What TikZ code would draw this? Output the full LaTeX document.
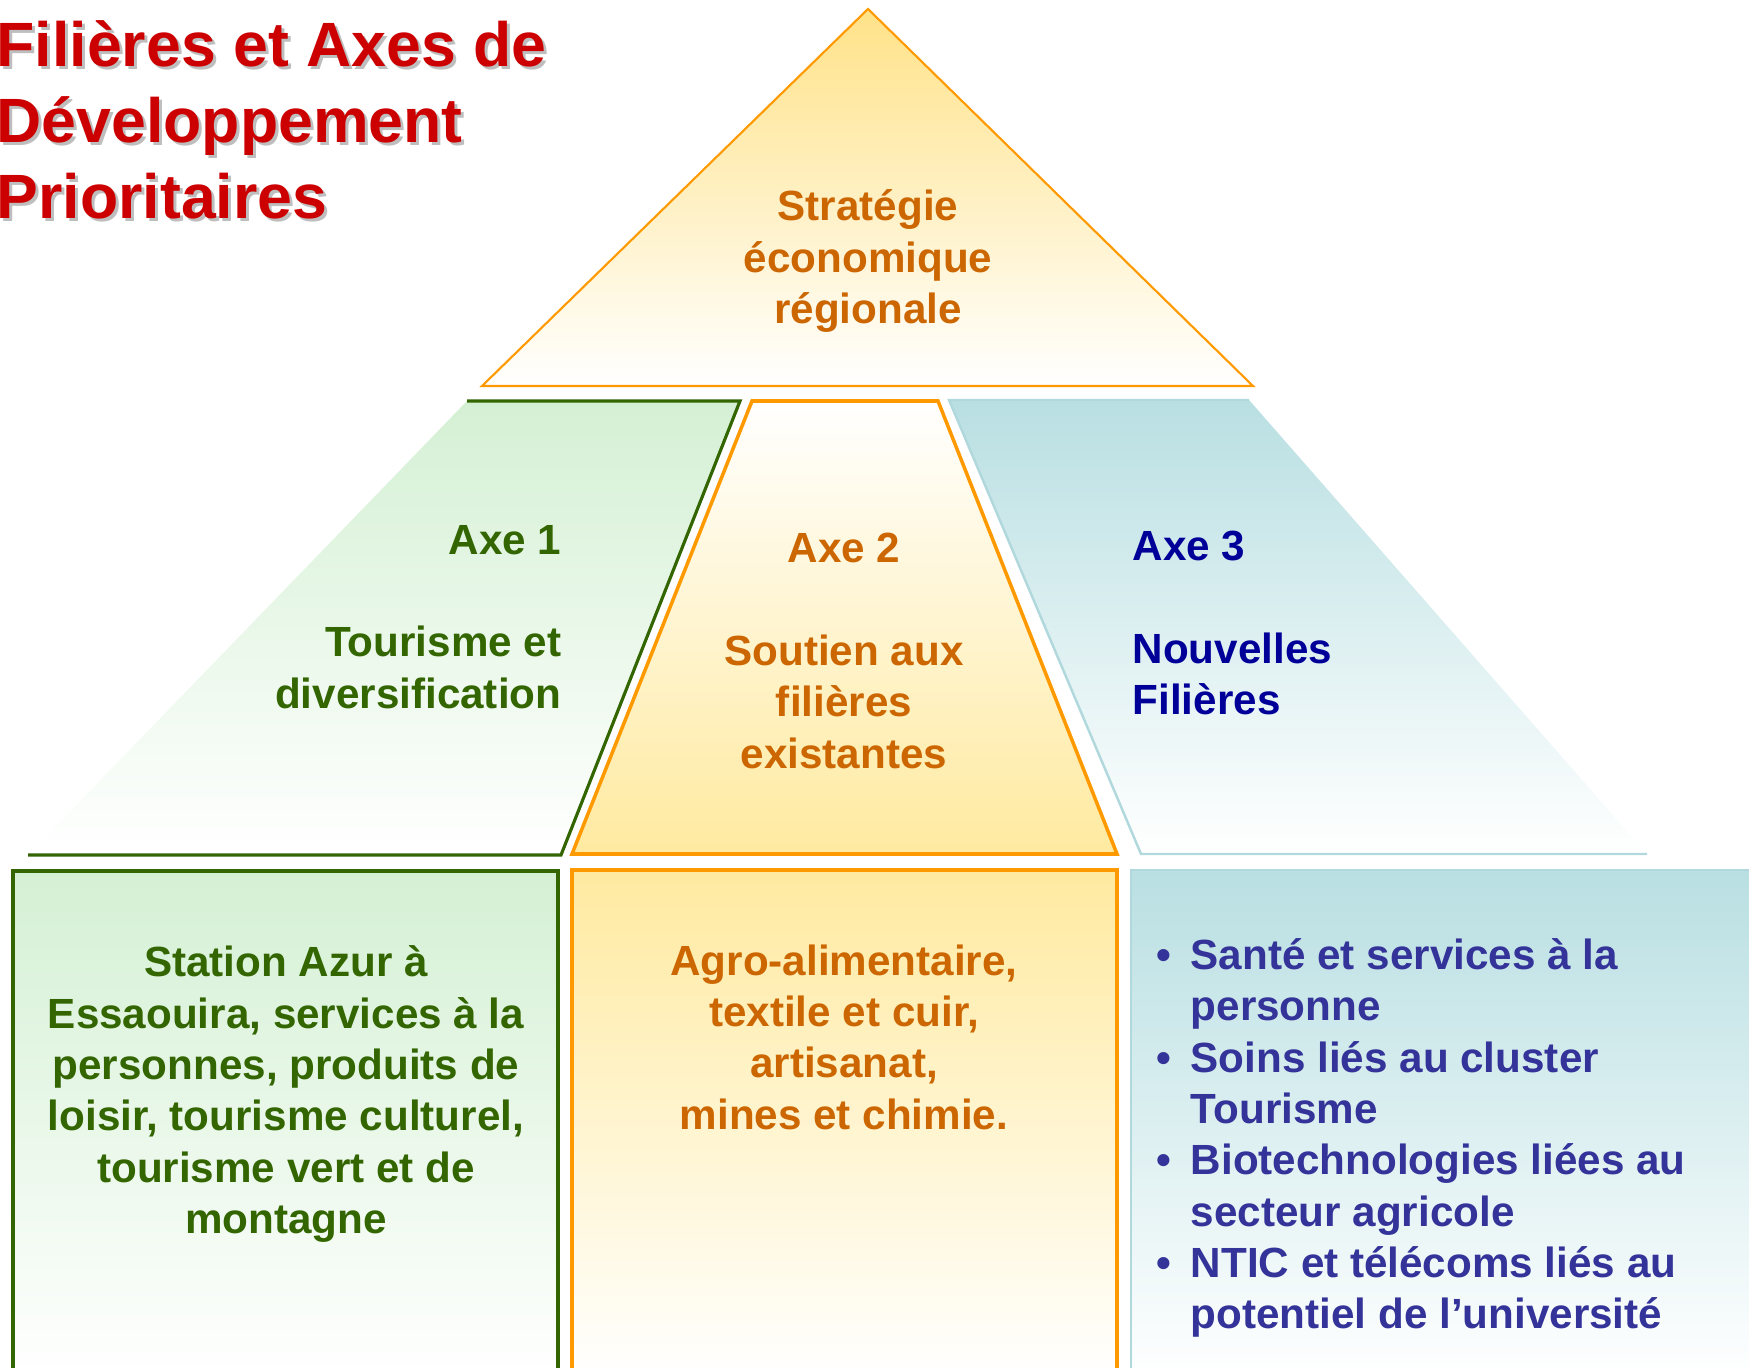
\documentclass[tikz,border=0pt]{standalone}
\usepackage{fontspec}
\setmainfont{Liberation Sans}
\usepackage{tikz}
\definecolor{rougetitre}{RGB}{204,0,0}
\definecolor{ombre}{RGB}{190,190,190}
\definecolor{brunorange}{RGB}{204,102,0}
\definecolor{orangebord}{RGB}{255,153,0}
\definecolor{jauneor}{RGB}{255,226,136}
\definecolor{jaunepale}{RGB}{255,234,160}
\definecolor{vertfonce}{RGB}{51,102,0}
\definecolor{vertclair}{RGB}{212,240,212}
\definecolor{bleuclair}{RGB}{185,223,226}
\definecolor{bleubord}{RGB}{176,216,221}
\definecolor{bleunuit}{RGB}{0,0,153}
\definecolor{bleuliste}{RGB}{51,51,153}
\newcommand{\puce}{\makebox[9.7pt][l]{\textbullet}}
\newcommand{\retrait}{\hspace*{9.7pt}}
\tikzset{
    txt/.style={font=\fontsize{12}{14.6}\selectfont\bfseries, inner sep=0pt}, % texte des blocs
    titre/.style={font=\fontsize{17.8}{21.6}\selectfont\bfseries, inner sep=0pt, align=left, anchor=west}, % titre en haut a gauche
    vertbord/.style={draw=vertfonce, line width=0.9pt}, % contour axe 1
    orbord/.style={draw=orangebord, line width=1pt}, % contour axe 2
    bleubd/.style={draw=bleubord, line width=0.7pt} % contour axe 3
}

\begin{document}
\begin{tikzpicture}[x=0.01cm, y=-0.01cm]
    \useasboundingbox (0,0) rectangle (1749,1367);
    \clip (0,0) rectangle (1749,1367);

    % titre avec ombre
    \node[titre, text=ombre] (titreombre) at (-1,123) {Filières et Axes de\\Développement\\Prioritaires};
    \node[titre, text=rougetitre] (titre) at (-4,120) {Filières et Axes de\\Développement\\Prioritaires};

    % sommet
    \path[top color=jauneor, bottom color=white] (868,9) -- (1253,386) -- (482,386) -- cycle;
    \draw[draw=orangebord, line width=0.6pt] (868,9) -- (1253,386) -- (482,386) -- cycle;
    \node[txt, text=brunorange, align=center] (strategie) at (868,261) {Stratégie\\économique\\régionale};

    % les trois axes
    \path[top color=vertclair, bottom color=white] (467,401) -- (740,401) -- (561,855) -- (28,855) -- cycle;
    \draw[vertbord] (467,401) -- (740,401) -- (561,855) -- (28,855);
    \path[top color=white, bottom color=jaunepale] (752,401) -- (938,401) -- (1117,854) -- (572,854) -- cycle;
    \draw[orbord] (752,401) -- (938,401) -- (1117,854) -- (572,854) -- cycle;
    \path[top color=bleuclair, bottom color=white] (949,400) -- (1249,400) -- (1647,854) -- (1141,854) -- cycle;
    \draw[bleubd] (1249,400) -- (949,400) -- (1141,854) -- (1647,854);

    \node[txt, text=vertfonce, align=right, anchor=east] (axe1) at (562,617) {Axe 1\\[14.6pt]Tourisme et\\diversification};
    \node[txt, text=brunorange, align=center] (axe2) at (844,651) {Axe 2\\[14.6pt]Soutien aux\\filières\\existantes};
    \node[txt, text=bleunuit, align=left, anchor=west] (axe3) at (1132,623) {Axe 3\\[14.6pt]Nouvelles\\Filières};

    % les filieres
    \path[top color=vertclair, bottom color=white] (13,871) rectangle (558,1380);
    \draw[vertbord] (13,1380) -- (13,871) -- (558,871) -- (558,1380);
    \path[top color=jaunepale, bottom color=white] (572,870) rectangle (1117,1380);
    \draw[orbord] (572,1380) -- (572,870) -- (1117,870) -- (1117,1380);
    \path[top color=bleuclair, bottom color=white] (1131,870) rectangle (1760,1380);
    \draw[bleubd] (1131,1380) -- (1131,870) -- (1760,870);

    \node[txt, text=vertfonce, align=center] (filiere1) at (286,1094) {Station Azur à\\Essaouira, services à la\\personnes, produits de\\loisir, tourisme culturel,\\tourisme vert et de\\montagne};
    \node[txt, text=brunorange, align=center] (filiere2) at (844,1037) {Agro-alimentaire,\\textile et cuir,\\artisanat,\\mines et chimie.};
    \node[txt, text=bleuliste, align=left, anchor=west] (filiere3) at (1156,1138) {\puce Santé et services à la\\\retrait personne\\\puce Soins liés au cluster\\\retrait Tourisme\\\puce Biotechnologies liées au\\\retrait secteur agricole\\\puce NTIC et télécoms liés au\\\retrait potentiel de l’université};
\end{tikzpicture}
\end{document}
